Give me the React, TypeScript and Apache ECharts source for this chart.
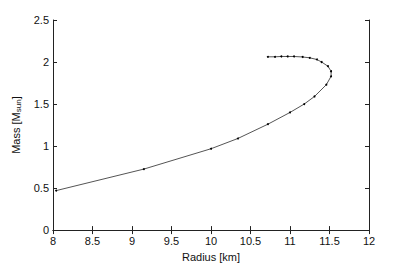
import React, { useEffect, useRef } from "react";
import * as echarts from "echarts";

const radius = [8.04, 9.15, 10.0, 10.34, 10.72, 11.0, 11.18, 11.31, 11.46, 11.52, 11.52, 11.48, 11.4, 11.34, 11.25, 11.16, 11.05, 10.97, 10.89, 10.81, 10.72];
const mass = [0.47, 0.726, 0.968, 1.09, 1.26, 1.4, 1.5, 1.59, 1.73, 1.83, 1.89, 1.95, 2.0, 2.03, 2.05, 2.06, 2.066, 2.066, 2.066, 2.062, 2.062];

const FONT = "'Liberation Sans', Arial, Helvetica, sans-serif";

export default function App() {
  const ref = useRef<HTMLDivElement>(null);
  useEffect(() => {
    if (!ref.current) return;
    const chart = echarts.init(ref.current, null, { renderer: "svg" });
    const axisLine = { show: true, lineStyle: { color: "#222", width: 1 } };
    const tick = { show: true, inside: true, length: 4, lineStyle: { color: "#222", width: 1 } };
    const label = { color: "#111", fontSize: 11, fontFamily: FONT };
    chart.setOption({
      animation: false,
      backgroundColor: "#fff",
      grid: { left: 53, top: 20, right: 39, bottom: 30, containLabel: false },
      xAxis: [
        {
          type: "value", min: 8, max: 12, interval: 0.5, position: "bottom",
          axisLine, axisTick: tick, splitLine: { show: false },
          axisLabel: { ...label, margin: 5 },
          name: "Radius [km]", nameLocation: "middle", nameGap: 19,
          nameTextStyle: { color: "#111", fontSize: 11, fontFamily: FONT },
        },
        {
          type: "value", min: 8, max: 12, interval: 0.5, position: "top",
          axisLine, axisTick: tick, splitLine: { show: false },
          axisLabel: { show: false },
        },
      ],
      yAxis: [
        {
          type: "value", min: 0, max: 2.5, interval: 0.5, position: "left",
          axisLine, axisTick: tick, splitLine: { show: false },
          axisLabel: { ...label, margin: 4 },
          name: "Mass [M{sub|sun}]", nameLocation: "middle", nameGap: 27,
          nameTextStyle: {
            color: "#111", fontSize: 11, fontFamily: FONT,
            rich: { sub: { fontSize: 8, fontFamily: FONT, color: "#111", verticalAlign: "bottom", padding: [6, 0, 0, 0] } },
          },
        },
        {
          type: "value", min: 0, max: 2.5, interval: 0.5, position: "right",
          axisLine, axisTick: tick, splitLine: { show: false },
          axisLabel: { show: false },
        },
      ],
      series: [
        {
          type: "line",
          data: radius.map((r, i) => [r, mass[i]]),
          xAxisIndex: 0, yAxisIndex: 0,
          showSymbol: true, symbol: "circle", symbolSize: 2,
          lineStyle: { color: "#555", width: 1 },
          itemStyle: { color: "#000" },
          silent: true,
        },
      ],
    });
    return () => chart.dispose();
  }, []);
  return <div ref={ref} style={{ position: "fixed", left: 0, top: 0, width: 408, height: 267 }} />;
}
